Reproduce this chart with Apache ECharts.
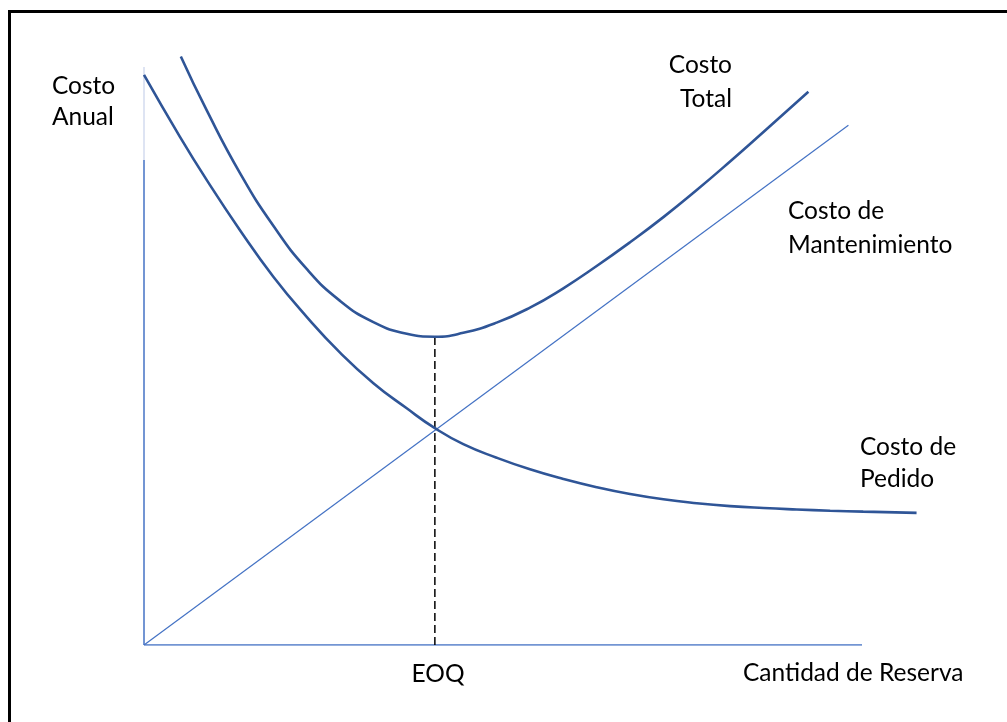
<!DOCTYPE html>
<html>
<head>
<meta charset="utf-8">
<script src="https://cdn.jsdelivr.net/npm/echarts@6/dist/echarts.min.js"></script>
<style>
html,body{margin:0;padding:0;background:#fff;}
#chart{width:1007px;height:722px;}
</style>
</head>
<body>
<div id="chart"></div>
<script>
// (x: quantity units, y: cost units)
const costoPedido = [
  [0,117.8],[12.4,105.0],[21.6,96.1],[33.1,85.7],[44.6,76.1],[56.1,67.8],[67.6,60.4],
  [79.1,54.1],[90.6,48.9],[100.3,44.8],[110.1,41.5],[121.6,38.7],[133.1,36.3],[144.6,34.3],
  [156.1,32.6],[167.6,31.2],[179.1,30.1],[190.6,29.3],[202.1,28.7],[213.6,28.3],[225.1,28.0],
  [236.6,27.75],[248.0,27.55],[266.4,27.3]
];
const costoTotal = [
  [12.7,121.6],[21.6,110.5],[33.1,97.5],[44.6,86.6],[56.1,77.7],[67.6,71.1],[79.1,66.7],
  [90.6,64.3],[100.3,63.7],[110.1,64.5],[121.6,66.6],[133.1,69.7],[144.6,73.7],[156.1,78.3],
  [167.6,83.2],[179.1,88.4],[190.6,94.0],[202.1,99.9],[213.6,106.0],[229.1,114.3]
];
const costoMantenimiento = [[0,0],[242.9,107.4]];
const eoq = 100.3;
const eoqCost = 63.7;
const axisXEnd = 247.6;
const axisYEnd = 100.2;
const axisYFaintEnd = 119.4;

const FONT = '24.5px Lato';
const TXT = '#000';
function label(text, x, y, align) {
  return { type: 'text', x: x, y: y, style: { text: text, font: FONT, fill: TXT, align: align || 'left', verticalAlign: 'middle' } };
}

const chart = echarts.init(document.getElementById('chart'), null, { renderer: 'canvas' });
chart.setOption({
  animation: false,
  backgroundColor: '#ffffff',
  grid: { left: 144, right: 51, top: 40, bottom: 77 },
  xAxis: { type: 'value', min: 0, max: 280, show: false },
  yAxis: { type: 'value', min: 0, max: 125, show: false },
  series: [
    { type: 'line', data: [[0, axisYEnd], [0, axisYFaintEnd]], showSymbol: false, silent: true,
      lineStyle: { color: '#d3dbef', width: 1.5 } },
    { type: 'line', data: [[0, 0], [0, axisYEnd]], showSymbol: false, silent: true,
      lineStyle: { color: '#4472C4', width: 1.5 } },
    { type: 'line', data: [[0, 0], [axisXEnd, 0]], showSymbol: false, silent: true,
      lineStyle: { color: '#4472C4', width: 1.5 } },
    { type: 'line', data: [[eoq, 0], [eoq, eoqCost]], showSymbol: false, silent: true,
      lineStyle: { color: '#000', width: 1.5, type: [8, 4] } },
    { name: 'Costo de Mantenimiento', type: 'line', data: costoMantenimiento, showSymbol: false,
      lineStyle: { color: '#4472C4', width: 1.2 } },
    { name: 'Costo de Pedido', type: 'line', data: costoPedido, showSymbol: false, smooth: 0.5,
      lineStyle: { color: '#2F5597', width: 2.6 } },
    { name: 'Costo Total', type: 'line', data: costoTotal, showSymbol: false, smooth: 0.5,
      lineStyle: { color: '#2F5597', width: 2.6 } }
  ],
  graphic: [
    { type: 'line', shape: { x1: 8, y1: 11.5, x2: 1007, y2: 11.5 }, style: { stroke: '#000', lineWidth: 3 } },
    { type: 'line', shape: { x1: 9.5, y1: 10, x2: 9.5, y2: 722 }, style: { stroke: '#000', lineWidth: 3 } },
    label('Costo', 52, 86),
    label('Anual', 52, 117.5),
    label('Costo', 732, 65, 'right'),
    label('Total', 732, 99.5, 'right'),
    label('Costo de', 788, 211.5),
    label('Mantenimiento', 788, 245),
    label('Costo de', 860, 447),
    label('Pedido', 860, 479),
    label('EOQ', 438, 674, 'center'),
    label('Cantidad de Reserva', 743, 673.5)
  ]
});
</script>
</body>
</html>
